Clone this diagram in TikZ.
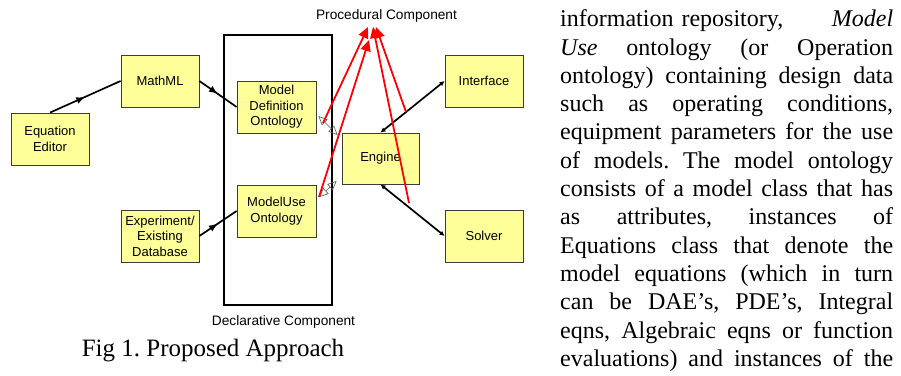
\documentclass[tikz,border=0pt]{standalone}
\usepackage{fontspec}
\setmainfont{Liberation Serif}
\newfontfamily\arialf{Liberation Sans}
\usetikzlibrary{arrows.meta,decorations.markings}
\definecolor{boxfill}{RGB}{255,255,153}
\definecolor{boxline}{RGB}{60,60,60}
\frenchspacing
\begin{document}
\begin{tikzpicture}[x=1pt,y=-1pt,
  blk/.style={draw=boxline,line width=0.8pt,fill=boxfill,minimum width=78pt,minimum height=52pt,
    inner sep=0pt,align=center,font=\arialf\fontsize{13}{15.5}\selectfont},
  lbl/.style={anchor=base,inner sep=0pt,font=\arialf\fontsize{13.7}{16}\selectfont},
  midarr/.style={line width=1.7pt,postaction={decorate},decoration={markings,
    mark=at position 0.5 with {\arrow{Latex[length=9pt,width=7pt]}}}},
  dbl/.style={line width=1.7pt,{Latex[length=5pt,width=5pt]}-{Latex[length=5pt,width=5pt]}},
  opn/.style={draw=gray!70!black,line width=0.6pt,{Triangle[open,length=9pt,width=8pt]}-{Triangle[open,length=9pt,width=8pt]}},
  red/.style={draw=red,line width=1.8pt,-{Triangle[length=11pt,width=10pt]}},
  bodyl/.style={anchor=base west,inner sep=0pt,font=\fontsize{24}{28}\selectfont}]
\useasboundingbox (0,0) rectangle (901,375);

% declarative component frame
\node[draw=black,line width=1.5pt,minimum width=108pt,minimum height=270pt,inner sep=0pt] (decl) at (278,170) {};

% boxes
\node[blk] (ee) at (50,139) {Equation\\Editor};
\node[blk] (mm) at (160,81) {MathML};
\node[blk,minimum width=79pt] (md) at (276.5,107) {Model\\Definition\\Ontology};
\node[blk,minimum width=79pt] (mu) at (276.5,211) {ModelUse\\Ontology};
\node[blk] (ex) at (160,236) {Experiment/\\Existing\\Database};
\node[blk,minimum width=77pt,minimum height=51pt] (en) at (380.5,158.5) {Engine};
\node[blk] (if) at (484,81) {Interface};
\node[blk] (so) at (484,236) {Solver};

% labels
\node[lbl] (proc) at (386.5,19.3) {Procedural Component};
\node[lbl] (decll) at (283.5,325.5) {Declarative Component};

% black connectors
\draw[midarr] (ee.north) -- (mm.west);
\draw[midarr] (mm.east) -- (md.west);
\draw[midarr] (ex.east) -- (mu.west);
\draw[dbl] (en.north) -- (if.west);
\draw[dbl] (en.south) -- (so.west);

% open gray double arrows
\draw[opn] ([shift={(2,9)}]md.east) -- ([shift={(-4,-23.5)}]en.west);
\draw[opn] ([shift={(3,-14)}]mu.east) -- ([shift={(-5,22.5)}]en.west);

% red arrows to procedural component
\coordinate (r1) at (323,123);
\coordinate (r2) at (319,197);
\coordinate (r3) at (409,203);
\coordinate (r4) at (406,112);
\coordinate (t1) at (368,27);
\coordinate (t2) at (369,40);
\coordinate (t3) at (373,27);
\coordinate (t4) at (376,27);
\draw[red] (r1) -- (t1);
\draw[red] (r2) -- (t2);
\draw[red] (r3) -- (t3);
\draw[red] (r4) -- (t4);

% caption
\node[anchor=base,inner sep=0pt,font=\fontsize{25}{30}\selectfont] (cap) at (213,356) {Fig 1. Proposed Approach};

% body text
\node[bodyl] (l1) at (560,26.7) {\makebox[333pt][s]{information\hspace{8pt}repository,\hfill\textit{Model}}};
\node[bodyl] (l2) at (560,55.0) {\makebox[333pt][s]{\textit{Use} ontology (or Operation}};
\node[bodyl] (l3) at (560,83.3) {\makebox[333pt][s]{ontology) containing design data}};
\node[bodyl] (l4) at (560,111.6) {\makebox[333pt][s]{such as operating conditions,}};
\node[bodyl] (l5) at (560,139.9) {\makebox[333pt][s]{equipment parameters for the use}};
\node[bodyl] (l6) at (560,168.2) {\makebox[333pt][s]{of models. The model ontology}};
\node[bodyl] (l7) at (560,196.5) {\makebox[333pt][s]{consists of a model class that has}};
\node[bodyl] (l8) at (560,224.8) {\makebox[333pt][s]{as attributes, instances of}};
\node[bodyl] (l9) at (560,253.1) {\makebox[333pt][s]{Equations class that denote the}};
\node[bodyl] (l10) at (560,281.4) {\makebox[333pt][s]{model equations (which in turn}};
\node[bodyl] (l11) at (560,309.7) {\makebox[333pt][s]{can be DAE’s, PDE’s, Integral}};
\node[bodyl] (l12) at (560,338.0) {\makebox[333pt][s]{eqns, Algebraic eqns or function}};
\node[bodyl] (l13) at (560,366.3) {\makebox[333pt][s]{evaluations) and instances of the}};
\end{tikzpicture}
\end{document}
